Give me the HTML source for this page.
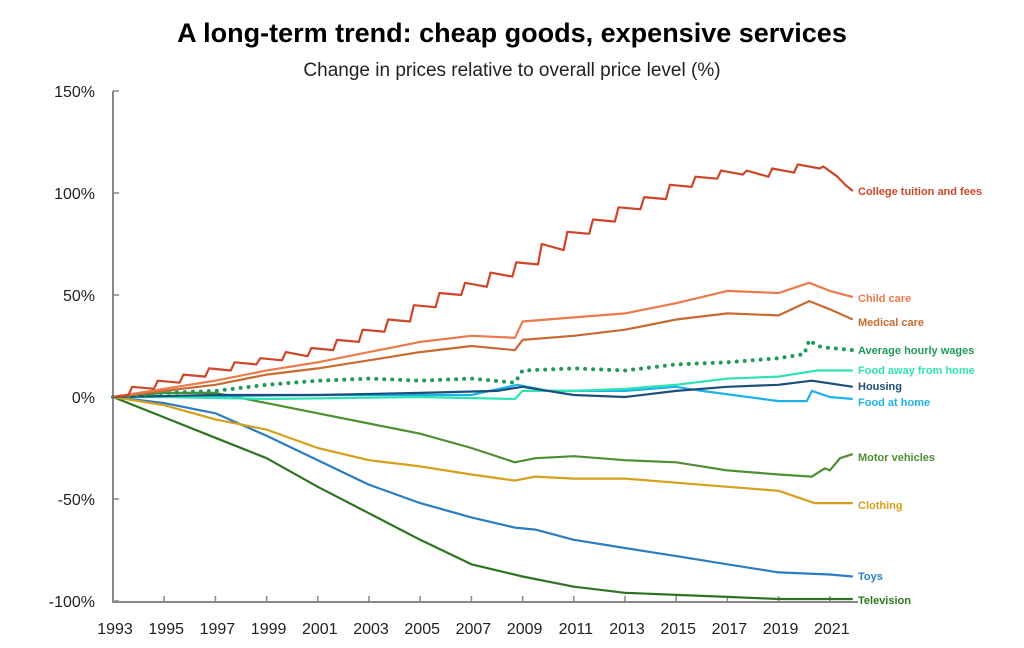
<!DOCTYPE html>
<html><head><meta charset="utf-8"><style>
body{margin:0;background:#fff;width:1024px;height:643px;overflow:hidden;font-family:"Liberation Sans",sans-serif}
</style></head><body>
<svg id="chart" width="1024" height="643" xmlns="http://www.w3.org/2000/svg">
<text x="512" y="42" text-anchor="middle" font-size="27" font-weight="bold" fill="#000">A long-term trend: cheap goods, expensive services</text>
<text x="512" y="76" text-anchor="middle" font-size="19" fill="#222">Change in prices relative to overall price level (%)</text>
<g id="axes"></g><g id="lines"></g><g id="labels"></g>
</svg>
<script>
const yTicks=[150,100,50,0,-50,-100];
const yTickLabels=["150%","100%","50%","0%","-50%","-100%"];
const xTicks=[1993,1995,1997,1999,2001,2003,2005,2007,2009,2011,2013,2015,2017,2019,2021];
const collegeYears=[1993,1993.6,1993.75,1994.6,1994.75,1995.6,1995.75,1996.6,1996.75,1997.6,1997.75,1998.6,1998.75,1999.6,1999.75,2000.6,2000.75,2001.6,2001.75,2002.6,2002.75,2003.6,2003.75,2004.6,2004.75,2005.6,2005.75,2006.6,2006.75,2007.6,2007.75,2008.6,2008.75,2009.6,2009.75,2010.6,2010.75,2011.6,2011.75,2012.6,2012.75,2013.6,2013.75,2014.6,2014.75,2015.6,2015.75,2016.6,2016.75,2017.6,2017.75,2018.6,2018.75,2019.6,2019.75,2020.6,2020.75,2021.3,2021.6,2021.9];
const collegeValues=[0,1,5,4,8,7,11,10,14,13,17,16,19,18,22,20,24,23,28,27,33,32,38,37,45,44,51,50,56,54,61,59,66,65,75,72,81,80,87,86,93,92,98,97,104,103,108,107,111,109,111,108,112,110,114,112,113,108,104,101];
const childYears=[1993,1995,1997,1999,2001,2003,2005,2007,2008.7,2009,2011,2013,2015,2017,2019,2020.2,2021,2021.9];
const childValues=[0,4,8,13,17,22,27,30,29,37,39,41,46,52,51,56,52,49];
const medicalYears=[1993,1995,1997,1999,2001,2003,2005,2007,2008.7,2009,2011,2013,2015,2017,2019,2020.2,2021,2021.9];
const medicalValues=[0,3,6,11,14,18,22,25,23,28,30,33,38,41,40,47,43,38];
const wagesYears=[1993,1995,1997,1999,2001,2003,2005,2007,2008.7,2009,2011,2013,2015,2017,2019,2020,2020.2,2020.5,2021,2021.9];
const wagesValues=[0,2,3,6,8,9,8,9,7,13,14,13,16,17,19,21,28,25,24,23];
const foodAwayYears=[1993,1995,1999,2005,2008.7,2009,2011,2013,2015,2017,2019,2020.5,2021.9];
const foodAwayValues=[0,0,-1,0,-1,3,3,4,6,9,10,13,13];
const housingYears=[1993,1997,2001,2005,2008,2009,2011,2013,2015,2017,2019,2020.3,2021.9];
const housingValues=[0,1,1,2,3,5,1,0,3,5,6,8,5];
const foodHomeYears=[1993,2001,2005,2007,2008.8,2010,2013,2015,2016,2019,2020.1,2020.3,2021,2021.9];
const foodHomeValues=[0,1,1,1,6,3,3,5,3,-2,-2,3,0,-1];
const motorYears=[1993,1995,1997,1999,2001,2003,2005,2007,2008.7,2009.5,2011,2013,2015,2017,2019,2020.3,2020.8,2021,2021.4,2021.9];
const motorValues=[0,2,2,-3,-8,-13,-18,-25,-32,-30,-29,-31,-32,-36,-38,-39,-35,-36,-30,-28];
const clothingYears=[1993,1995,1997,1999,2001,2003,2005,2007,2008.7,2009.5,2011,2013,2015,2017,2019,2020.4,2021.9];
const clothingValues=[0,-4,-11,-16,-25,-31,-34,-38,-41,-39,-40,-40,-42,-44,-46,-52,-52];
const toysYears=[1993,1995,1997,1999,2001,2003,2005,2007,2008.7,2009.5,2011,2013,2015,2017,2019,2021,2021.9];
const toysValues=[0,-3,-8,-19,-31,-43,-52,-59,-64,-65,-70,-74,-78,-82,-86,-87,-88];
const tvYears=[1993,1995,1997,1999,2001,2003,2005,2007,2009,2011,2013,2015,2017,2019,2021.9];
const tvValues=[0,-10,-20,-30,-44,-57,-70,-82,-88,-93,-96,-97,-98,-99,-99];

const X=t=>113+(t-1993)*25.6;
const Y=v=>397-v*2.04;
const NS="http://www.w3.org/2000/svg";
function mk(tag,attrs,parent,txt){const e=document.createElementNS(NS,tag);for(const k in attrs)e.setAttribute(k,attrs[k]);if(txt!=null)e.textContent=txt;parent.appendChild(e);return e;}
const axes=document.getElementById('axes'),lines=document.getElementById('lines'),labels=document.getElementById('labels');
let a=mk('line',{x1:113,y1:91,x2:113,y2:602,stroke:'#888','stroke-width':2},axes);

a=mk('line',{x1:112,y1:602,x2:858,y2:602,stroke:'#888','stroke-width':2},axes);

yTicks.forEach((v,i)=>{
 const t=mk('line',{x1:113,y1:Y(v),x2:119,y2:Y(v),stroke:'#888','stroke-width':1.5},axes);
 
 const l=mk('text',{x:95,y:Y(v)+6,'text-anchor':'end','font-size':16,fill:'#222'},axes,yTickLabels[i]);
 
});
xTicks.forEach(yr=>{
 if(yr>1993){const t=mk('line',{x1:X(yr),y1:602,x2:X(yr),y2:596,stroke:'#888','stroke-width':1.5},axes);
 }
 const l=mk('text',{x:X(yr)+2,y:634,'text-anchor':'middle','font-size':16,fill:'#222'},axes,String(yr));
 
});
const series=[
 ['television',tvYears,tvValues,'#2e7420','Television',false],
 ['toys',toysYears,toysValues,'#2b7dc0','Toys',false],
 ['clothing',clothingYears,clothingValues,'#d6a01a','Clothing',false],
 ['motor-vehicles',motorYears,motorValues,'#4f8f33','Motor vehicles',false],
 ['food-at-home',foodHomeYears,foodHomeValues,'#1db3ea','Food at home',false],
 ['food-away',foodAwayYears,foodAwayValues,'#2fe3b3','Food away from home',false],
 ['housing',housingYears,housingValues,'#1b4f7a','Housing',false],
 ['wages',wagesYears,wagesValues,'#1f9a5a','Average hourly wages',true],
 ['medical-care',medicalYears,medicalValues,'#c96a33','Medical care',false],
 ['child-care',childYears,childValues,'#ec7a4c','Child care',false],
 ['college',collegeYears,collegeValues,'#cf4529','College tuition and fees',false]
];
const labelY={'television':600,'toys':576,'clothing':505,'motor-vehicles':457,'food-at-home':402,'food-away':370,'housing':386,'wages':350,'medical-care':322,'child-care':298,'college':191};
series.forEach(s=>{
 const d=s[1].map((t,i)=>(i?'L':'M')+X(t).toFixed(1)+','+Y(s[2][i]).toFixed(1)).join('');
 const attrs={d:d,fill:'none',stroke:s[3],'stroke-width':s[5]?4:2.2,'stroke-linejoin':'round'};
 if(s[5]){attrs['stroke-dasharray']='0 8';attrs['stroke-linecap']='round';}
 const p=mk('path',attrs,lines);
 
 const l=mk('text',{x:858,y:labelY[s[0]]+4,'font-size':11,'font-weight':'bold',fill:s[3]},labels,s[4]);
 
});
</script>
</body></html>
